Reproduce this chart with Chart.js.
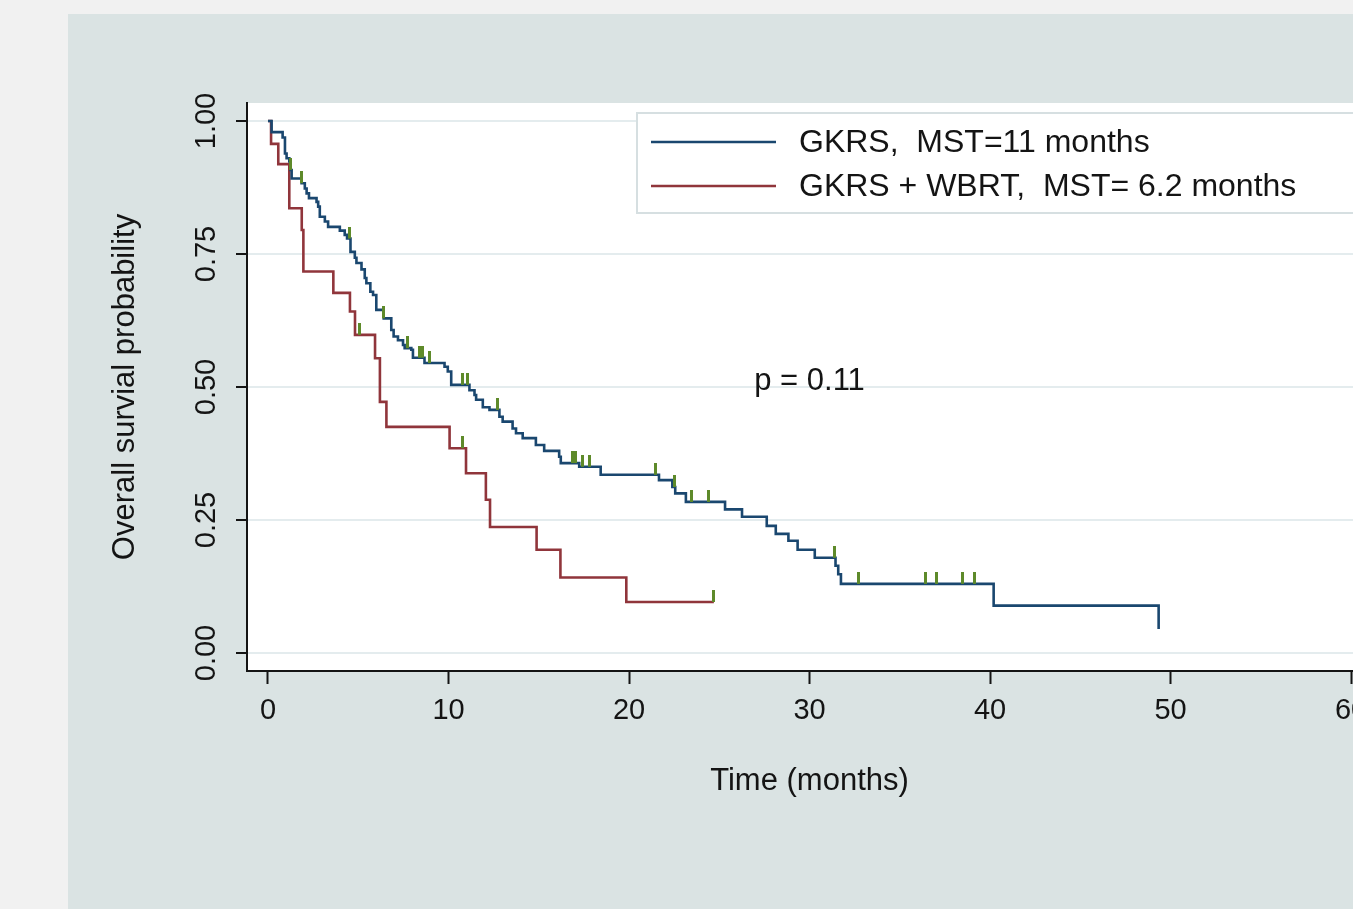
<!DOCTYPE html>
<html>
<head>
<meta charset="utf-8">
<script src="https://cdn.jsdelivr.net/npm/chart.js@4.4.1/dist/chart.umd.min.js"></script>
<style>
  html, body { margin: 0; padding: 0; width: 1353px; height: 909px; overflow: hidden; background: #f1f1f1; }
  canvas { display: block; }
</style>
</head>
<body>
<canvas id="km" width="1400" height="909"></canvas>
<script>
/* Kaplan-Meier overall survival */
const gkrsTime = [0, 0.20, 0.81, 0.94, 1.03, 1.18, 1.25, 1.31, 1.86, 2.04, 2.14, 2.27, 2.69, 2.78, 2.87, 3.15, 3.33, 3.98, 4.25, 4.38,
  4.57, 4.81, 4.90, 5.18, 5.36, 5.45, 5.67, 5.82, 6.00, 6.41, 6.83, 6.96, 7.20, 7.48, 7.57, 7.94, 8.03, 8.67, 9.78, 9.96,
  10.15, 11.16, 11.44, 11.53, 11.90, 12.27, 12.82, 13.00, 13.55, 13.74, 14.11, 14.84, 15.30, 16.13, 16.22, 17.24, 18.43,
  21.66, 22.40, 22.56, 23.15, 25.32, 26.26, 27.63, 28.13, 28.83, 29.34, 30.29, 31.44, 31.59, 31.74, 40.20, 49.34];
const gkrsSurv = [1, 0.979, 0.969, 0.939, 0.930, 0.924, 0.908, 0.892, 0.883, 0.873, 0.864, 0.855, 0.848, 0.839, 0.820, 0.811, 0.801, 0.794, 0.786, 0.779,
  0.754, 0.743, 0.733, 0.721, 0.705, 0.695, 0.679, 0.673, 0.645, 0.629, 0.607, 0.595, 0.588, 0.579, 0.573, 0.570, 0.555, 0.545, 0.538, 0.529,
  0.504, 0.494, 0.485, 0.476, 0.462, 0.457, 0.444, 0.435, 0.422, 0.413, 0.404, 0.391, 0.380, 0.369, 0.357, 0.350, 0.335,
  0.325, 0.312, 0.300, 0.284, 0.270, 0.256, 0.239, 0.224, 0.211, 0.194, 0.179, 0.164, 0.148, 0.130, 0.089, 0.045];
const gkrsCensored = [1.25, 1.86, 4.53, 6.41, 7.75, 8.40, 8.55, 8.97, 10.78, 11.04, 12.73, 16.87, 17.05, 17.42, 17.83,
  21.44, 22.52, 23.44, 24.42, 31.36, 32.73, 36.44, 37.01, 38.48, 39.16];

const wbrtTime = [0, 0.17, 0.57, 1.18, 1.87, 1.96, 3.62, 4.54, 4.82, 5.93, 6.20, 6.56, 10.06, 10.97, 12.07, 12.30, 14.88, 16.20, 19.85, 24.70];
const wbrtSurv = [1, 0.957, 0.919, 0.836, 0.795, 0.717, 0.677, 0.642, 0.598, 0.554, 0.472, 0.425, 0.385, 0.338, 0.288, 0.237, 0.194, 0.142, 0.096, 0.096];
const wbrtCensored = [5.08, 10.77, 24.70];

const seriesLabels = ["GKRS,  MST=11 months", "GKRS + WBRT,  MST= 6.2 months"];
const xTicks = [0, 10, 20, 30, 40, 50, 60];
const yTicks = [0, 0.25, 0.5, 0.75, 1];
const pText = "p = 0.11";

const FONT = "'Liberation Sans', Arial, sans-serif";
const navy = "#1a476f", maroon = "#90353b", green = "#5e8a2a", ink = "#141414";

const curve = (ts, ss) => ts.map((t, i) => ({ x: t, y: ss[i] }));
function survAt(ts, ss, t) {
  let s = ss[0];
  ts.forEach((v, i) => { if (v <= t) s = ss[i]; });
  return s;
}
const censorPts = (cs, ts, ss) => cs.map(t => ({ x: t, y: survAt(ts, ss, t) }));

// censor spike: upper half coloured, so it sits on top of the curve
function spike(color) {
  const c = document.createElement("canvas");
  c.width = 3; c.height = 24;
  const g = c.getContext("2d");
  g.fillStyle = color;
  g.fillRect(0, 0, 3, 12);
  return c;
}
const mark = spike(green);

const frame = {
  id: "frame",
  beforeDraw(chart) {
    const { ctx, chartArea: a, width, height } = chart;
    ctx.save();
    ctx.fillStyle = "#f1f1f1";
    ctx.fillRect(0, 0, width, height);
    ctx.fillStyle = "#dae3e3";
    ctx.fillRect(68, 14, width - 68, height - 14);
    ctx.fillStyle = "#ffffff";
    ctx.fillRect(a.left, a.top, a.right - a.left, a.bottom - a.top);
    ctx.restore();
  },
  afterDraw(chart) {
    const { ctx, scales: { x, y } } = chart;
    ctx.save();
    ctx.fillStyle = ink;
    ctx.textAlign = "center";
    ctx.textBaseline = "middle";
    ctx.font = "29px " + FONT;
    yTicks.forEach(v => {
      ctx.save();
      ctx.translate(207, y.getPixelForValue(v));
      ctx.rotate(-Math.PI / 2);
      ctx.fillText(v.toFixed(2), 0, 0);
      ctx.restore();
    });
    ctx.font = "31px " + FONT;
    ctx.fillText(pText, x.getPixelForValue(30), y.getPixelForValue(0.51));

    // legend
    ctx.fillStyle = "#ffffff";
    ctx.fillRect(637, 113, 760, 100);
    ctx.strokeStyle = "#d6dfe1";
    ctx.lineWidth = 2;
    ctx.strokeRect(637, 113, 760, 100);
    ctx.textAlign = "left";
    ctx.font = "32px " + FONT;
    [0, 1].forEach(i => {
      const ds = chart.data.datasets[i];
      const yy = 142 + i * 44;
      ctx.strokeStyle = ds.borderColor;
      ctx.lineWidth = ds.borderWidth;
      ctx.beginPath();
      ctx.moveTo(651, yy);
      ctx.lineTo(776, yy);
      ctx.stroke();
      ctx.fillStyle = ink;
      ctx.fillText(ds.label, 799, yy + 1);
    });
    ctx.restore();
  }
};

new Chart(document.getElementById("km"), {
  type: "line",
  data: {
    datasets: [
      { label: seriesLabels[0], data: curve(gkrsTime, gkrsSurv), borderColor: navy, borderWidth: 2.6,
        stepped: true, pointRadius: 0, fill: false, order: 1 },
      { label: seriesLabels[1], data: curve(wbrtTime, wbrtSurv), borderColor: maroon, borderWidth: 2.6,
        stepped: true, pointRadius: 0, fill: false, order: 2 },
      { type: "scatter", label: "censored", data: censorPts(gkrsCensored, gkrsTime, gkrsSurv),
        pointStyle: mark, pointRadius: 12, order: 0 },
      { type: "scatter", label: "censored", data: censorPts(wbrtCensored, wbrtTime, wbrtSurv),
        pointStyle: mark, pointRadius: 12, order: 0 },
    ],
  },
  options: {
    responsive: false,
    animation: false,
    events: [],
    layout: { padding: { left: 0, top: 103, right: 28, bottom: 0 } },
    plugins: { legend: { display: false }, tooltip: { enabled: false } },
    scales: {
      x: {
        type: "linear", min: -1.163, max: 61.16,
        afterBuildTicks: s => { s.ticks = xTicks.map(v => ({ value: v })); },
        afterFit: s => { s.height = 238; },
        grid: { drawOnChartArea: false, tickLength: 13, tickColor: ink, tickWidth: 2 },
        border: { display: true, color: ink, width: 2 },
        ticks: { font: { family: FONT, size: 29 }, color: ink, padding: 10, maxRotation: 0 },
        title: { display: true, text: "Time (months)", font: { family: FONT, size: 31 }, color: ink,
                 padding: { top: 0, bottom: 109 } },
      },
      y: {
        type: "linear", min: -0.0338, max: 1.0338,
        afterBuildTicks: s => { s.ticks = yTicks.map(v => ({ value: v })); },
        afterFit: s => { s.width = 247; },
        grid: { color: "#e4ecee", lineWidth: 2, tickLength: 11, tickColor: ink, tickWidth: 2 },
        border: { display: true, color: ink, width: 2 },
        ticks: { display: false },
        title: { display: true, text: "Overall survial probability", font: { family: FONT, size: 31 }, color: ink,
                 padding: { top: 107, bottom: 0 } },
      },
    },
  },
  plugins: [frame],
});
</script>
</body>
</html>
